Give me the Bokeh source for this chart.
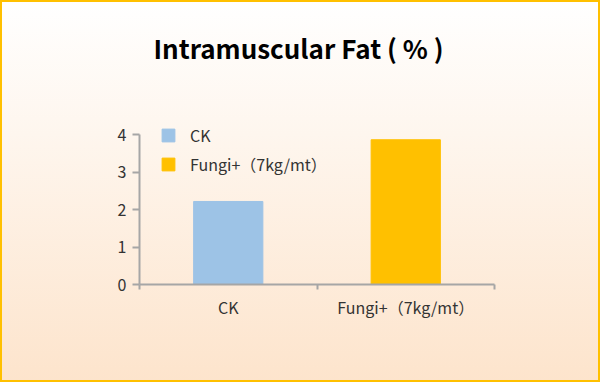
from bokeh.plotting import figure
from bokeh.models import (ColumnDataSource, FixedTicker, Label, Legend, LegendItem,
                          InlineStyleSheet)
from bokeh.embed import file_html
from bokeh.resources import INLINE

# ---- data ----
categories = ["CK", "Fungi+（7kg/mt）"]
values = [2.22, 3.87]
colors = ["#9DC3E6", "#FFC000"]
y_ticks = [0, 1, 2, 3, 4]
title_text = "Intramuscular Fat ( % )"

FONT = "Noto Sans CJK SC"
AXIS_COLOR = "#A6A6A6"
TEXT_COLOR = "#333333"

W, H = 600, 382
FRAME_LEFT, FRAME_RIGHT, FRAME_BOTTOM = 139, 494, 284
PX_PER_UNIT = 37.4

xpos = [i + 0.5 for i in range(len(categories))]
src = ColumnDataSource(dict(x=xpos, top=values, color=colors, cat=categories))

y_top = FRAME_BOTTOM / PX_PER_UNIT
p = figure(width=W, height=H, output_backend="svg", toolbar_location=None,
           x_range=(0, len(categories)), y_range=(0, y_top))
p.min_border_left = FRAME_LEFT
p.min_border_right = W - FRAME_RIGHT
p.min_border_top = 0
p.min_border_bottom = H - FRAME_BOTTOM
p.background_fill_color = None
p.border_fill_color = None
p.outline_line_color = None
p.grid.visible = False
p.stylesheets = [InlineStyleSheet(css=":host { background: linear-gradient(to bottom, #FFFFFF 0%, #FEF6EE 35%, #FDE4CC 100%); box-shadow: inset 0 0 0 2px #FFC000; }")]

r = p.vbar(x="x", top="top", width=0.39, color="color", source=src)

# x axis
xa = p.xaxis[0]
xa.ticker = FixedTicker(ticks=xpos, minor_ticks=list(range(len(categories) + 1)))
xa.major_label_overrides = {xp: c for xp, c in zip(xpos, categories)}
xa.major_tick_line_color = None
xa.minor_tick_line_color = AXIS_COLOR
xa.minor_tick_out = 5
xa.minor_tick_in = 0
xa.minor_tick_line_width = 2
xa.axis_line_color = AXIS_COLOR
xa.axis_line_width = 2
xa.major_label_text_font = FONT
xa.major_label_text_font_size = "16px"
xa.major_label_text_color = TEXT_COLOR
xa.major_label_standoff = 4

# y axis
ya = p.yaxis[0]
ya.ticker = FixedTicker(ticks=y_ticks)
ya.bounds = (y_ticks[0], y_ticks[-1])
ya.minor_tick_line_color = None
ya.major_tick_line_color = AXIS_COLOR
ya.major_tick_line_width = 2
ya.major_tick_out = 7
ya.major_tick_in = 0
ya.axis_line_color = AXIS_COLOR
ya.axis_line_width = 2
ya.major_label_text_font = FONT
ya.major_label_text_font_size = "16px"
ya.major_label_text_color = TEXT_COLOR
ya.major_label_standoff = 6

# title (screen units are relative to the frame's bottom-left)
p.add_layout(Label(x=298 - FRAME_LEFT, y=FRAME_BOTTOM - 47, x_units="screen", y_units="screen",
                   text=title_text,
                   text_font=FONT, text_font_size="26px", text_font_style="bold",
                   text_color="#000000", text_align="center", text_baseline="middle"))

# legend
items = [LegendItem(label=c, renderers=[r], index=i) for i, c in enumerate(categories)]
leg = Legend(items=items, location=(21, 108), orientation="vertical",
             glyph_width=16, glyph_height=16, label_height=16, spacing=5,
             padding=0, margin=0, label_standoff=14,
             label_text_font=FONT, label_text_font_size="16px",
             label_text_color=TEXT_COLOR, border_line_color=None,
             background_fill_alpha=0)
p.add_layout(leg)

open("out.html", "w").write(file_html(p, INLINE))
